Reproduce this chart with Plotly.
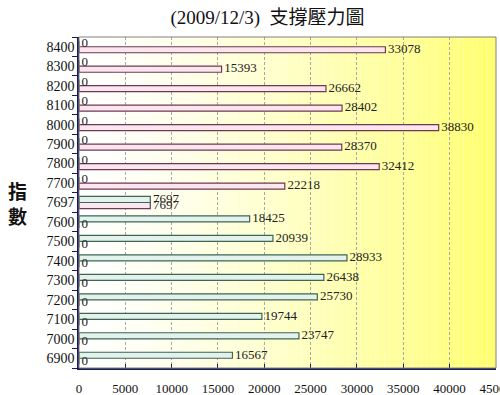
import plotly.graph_objects as go

categories = ["6900", "7000", "7100", "7200", "7300", "7400", "7500", "7600", "7697",
              "7700", "7800", "7900", "8000", "8100", "8200", "8300", "8400"]
support = [16567, 23747, 19744, 25730, 26438, 28933, 20939, 18425, 7697,
           0, 0, 0, 0, 0, 0, 0, 0]
resistance = [0, 0, 0, 0, 0, 0, 0, 0, 7697,
              22218, 32412, 28370, 38830, 28402, 26662, 15393, 33078]
x_ticks = [0, 5000, 10000, 15000, 20000, 25000, 30000, 35000, 40000, 45000]

num_font = "Liberation Serif, Noto Sans CJK TC, serif"
lab_font = dict(family=num_font, size=13, color="#222")

fig = go.Figure()
fig.add_trace(go.Bar(
    y=categories, x=resistance, orientation="h", name="壓力",
    offsetgroup="r", alignmentgroup="a",
    marker=dict(color="#fbe6ef", line=dict(color="#6e3a52", width=1.2)),
))
fig.add_trace(go.Bar(
    y=categories, x=support, orientation="h", name="支撐",
    offsetgroup="s", alignmentgroup="a",
    marker=dict(color="#e3f2ec", line=dict(color="#3d6656", width=1.2)),
))
# value labels (including zeros) aligned with the grouped bars
fig.add_trace(go.Scatter(
    y=categories, x=resistance, mode="text", orientation="h",
    offsetgroup="r", alignmentgroup="a",
    text=["\u2009" + str(v) for v in resistance], textposition="middle right",
    textfont=lab_font, cliponaxis=False, hoverinfo="skip",
))
fig.add_trace(go.Scatter(
    y=categories, x=support, mode="text", orientation="h",
    offsetgroup="s", alignmentgroup="a",
    text=["\u2009" + str(v) for v in support], textposition="middle right",
    textfont=lab_font, cliponaxis=False, hoverinfo="skip",
))

# gradient background
shapes = []
N = 90
xmax = 45000
for i in range(N):
    t = (i + 0.5) / N
    f = t ** 1.35
    b = int(round(255 - 145 * f))
    shapes.append(dict(type="rect", xref="x", yref="paper",
                       x0=xmax * i / N, x1=xmax * (i + 1) / N, y0=0, y1=1,
                       fillcolor=f"rgb(255,255,{b})", line=dict(width=0),
                       layer="below"))
shapes.append(dict(type="rect", xref="paper", yref="paper", x0=0, x1=1, y0=0, y1=1,
                   line=dict(color="#808080", width=1), fillcolor="rgba(0,0,0,0)"))

fig.update_layout(
    width=500, height=395,
    margin=dict(l=79, r=4, t=37, b=27, autoexpand=False),
    paper_bgcolor="white", plot_bgcolor="white",
    barmode="group", bargap=0.38, bargroupgap=0,
    scattermode="group", scattergap=0.38,
    showlegend=False,
    shapes=shapes,
    title=dict(text="(2009/12/3)  支撐壓力圖", x=0.535, xanchor="center", y=0.956,
               yanchor="middle",
               font=dict(family=num_font, size=19, color="#111")),
    annotations=[
        dict(text="<b>指<br>數</b>", xref="paper", yref="paper",
             x=-0.148, y=0.5, xanchor="center", yanchor="middle",
             showarrow=False, font=dict(family="Noto Sans CJK TC", size=19, color="#111")),
    ],
)

fig.update_xaxes(range=[0, 45020], tickvals=x_ticks, automargin=False,
                 ticktext=[str(v) for v in x_ticks], ticklabeloverflow="allow",
                 ticklabelstandoff=8,
                 showgrid=True, gridcolor="#a8a8a8", griddash="3px,2px", gridwidth=1,
                 zeroline=False, showline=True, linecolor="#1a1a5a", linewidth=1.5,
                 ticks="inside", ticklen=4, tickcolor="#1a1a5a",
                 tickfont=dict(family=num_font, size=13, color="#111"))
fig.update_yaxes(type="category", categoryorder="array", categoryarray=categories,
                 automargin=False,
                 showgrid=False, showline=True, linecolor="#1a1a5a", linewidth=1.5,
                 ticks="outside", tickson="boundaries", ticklen=5, tickcolor="#1a1a5a",
                 tickfont=dict(family=num_font, size=14, color="#111"))

fig.write_html("out.html", config={"displayModeBar": False},
               post_script="document.body.style.margin='0';document.body.style.overflow='hidden';")
